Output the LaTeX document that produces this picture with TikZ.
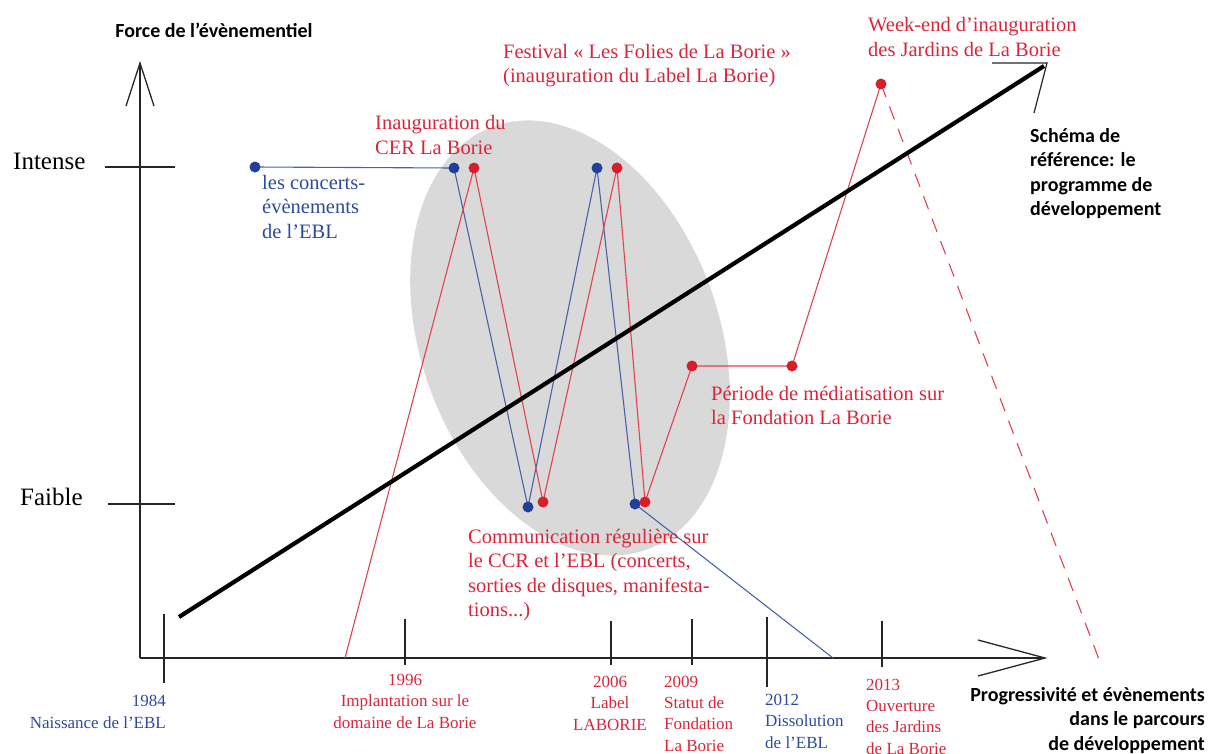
\documentclass[tikz,border=0pt]{standalone}
\usepackage{fontspec}
\setmainfont{Liberation Serif}
\newfontfamily\calfont{Carlito}
\definecolor{axisgray}{HTML}{262626}
\definecolor{ellgray}{HTML}{D9D9D9}
\definecolor{txtred}{HTML}{D9253A}
\definecolor{txtblue}{HTML}{2B4A9A}
\definecolor{dotred}{HTML}{D71E2B}
\definecolor{dotblue}{HTML}{213F98}
\definecolor{linered}{HTML}{E0434D}
\definecolor{lineblue}{HTML}{4862AA}
\begin{document}
\begin{tikzpicture}[x=1pt,y=-1pt,
  axisline/.style={draw=axisgray,line width=2.6pt},
  tickline/.style={draw=axisgray,line width=2pt},
  arrowarm/.style={draw=axisgray,line width=1.3pt},
  bluelink/.style={draw=lineblue,line width=1.1pt},
  redlink/.style={draw=linered,line width=1.1pt},
  bdot/.style={circle,fill=dotblue,inner sep=0pt,minimum size=11pt},
  rdot/.style={circle,fill=dotred,inner sep=0pt,minimum size=11pt},
  redlbl/.style={text=txtred,font=\fontsize{20.5}{24.5}\selectfont,inner sep=0pt,align=left,anchor=base west},
  bluelbl/.style={text=txtblue,font=\fontsize{20.5}{24.5}\selectfont,inner sep=0pt,align=left,anchor=base west},
  datelbl/.style={font=\fontsize{17}{21.2}\selectfont,inner sep=0pt},
  sanslbl/.style={font=\calfont\bfseries\fontsize{20}{24.5}\selectfont,inner sep=0pt,text=black},
  levellbl/.style={font=\fontsize{25}{30}\selectfont,inner sep=0pt,anchor=base west,text=black}
]
\useasboundingbox (0,0) rectangle (1209,753);

% grey zone
\fill[ellgray, rotate around={20:(570,338)}] (570,338) ellipse [x radius=149, y radius=225];

% coordinates
\coordinate (yo) at (140,658);
\coordinate (ytip) at (140,63);
\coordinate (yal) at (126,106);
\coordinate (yar) at (154,106);
\coordinate (xtip) at (1045,658);
\coordinate (xau) at (978,640);
\coordinate (xad) at (978,676);

\coordinate (b0) at (255,167);
\coordinate (b1) at (454,168);
\coordinate (b2) at (528,507);
\coordinate (b3) at (597,168);
\coordinate (b4) at (635,504);
\coordinate (bend) at (833,658);

\coordinate (rstart) at (345,658);
\coordinate (r1) at (474,168);
\coordinate (r2) at (543,502);
\coordinate (r3) at (617,168);
\coordinate (r4) at (645,502);
\coordinate (r5) at (692,366);
\coordinate (r6) at (792,366);
\coordinate (r7) at (881,84);
\coordinate (rend) at (1100,662);

\coordinate (ls) at (179,617);
\coordinate (le) at (1044,66);
\coordinate (ca) at (992,63);
\coordinate (cb) at (1047,63);
\coordinate (cc) at (1034,113);

% axes
\draw[axisline] (yo) -- (ytip);
\draw[arrowarm] (yal) -- (ytip) -- (yar);
\draw[axisline] (yo) -- (xtip);
\draw[arrowarm] (xau) -- (xtip) -- (xad);

% level ticks
\draw[tickline] (105,167) -- (175,167);
\draw[tickline] (108,504) -- (175,504);

% time ticks
\draw[tickline] (164,614) -- (164,683);
\draw[tickline] (405,619) -- (405,665);
\draw[tickline] (611,621) -- (611,665);
\draw[tickline] (692,619) -- (692,665);
\draw[tickline] (767,617) -- (767,687);
\draw[tickline] (882,621) -- (882,667);

% paths
\draw[bluelink] (b0) -- (b1) -- (b2) -- (b3) -- (b4) -- (bend);
\draw[redlink] (rstart) -- (r1) -- (r2) -- (r3) -- (r4) -- (r5) -- (r6) -- (r7);
\draw[redlink, dash pattern=on 14pt off 10pt] (r7) -- (rend);

% reference line
\draw[line width=4.2pt, black] (ls) -- (le);
\draw[line width=1.2pt, axisgray] (ca) -- (cb) -- (cc);

% dots
\foreach \p in {b0,b1,b2,b3,b4} \node[bdot] (d\p) at (\p) {};
\foreach \p in {r1,r2,r3,r4,r5,r6,r7} \node[rdot] (d\p) at (\p) {};

% axis labels (base anchor = baseline of the last line)
\node[sanslbl, anchor=base] (ttl) at (214,37) {Force de l’évènementiel};
\node[levellbl] (intense) at (13,169) {Intense};
\node[levellbl] (faible) at (20,505) {Faible};
\node[sanslbl, anchor=base west, align=left] (schema) at (1030,215.5) {Schéma de\\référence: le\\programme de\\développement};
\node[sanslbl, anchor=base east, align=right] (prog) at (1205,750) {Progressivité et évènements\\dans le parcours\\de développement};

% event labels
\node[bluelbl] (concerts) at (262,238) {les concerts-\\évènements\\de l’EBL};
\node[redlbl] (cer) at (375,154) {Inauguration du\\CER La Borie};
\node[redlbl] (festival) at (503,82.5) {Festival « Les Folies de La Borie »\\(inauguration du Label La Borie)};
\node[redlbl] (weekend) at (868,56) {Week-end d’inauguration\\des Jardins de La Borie};
\node[redlbl] (media) at (711,424.5) {Période de médiatisation sur\\la Fondation La Borie};
\node[redlbl] (comm) at (468,616.5) {Communication régulière sur\\le CCR et l’EBL (concerts,\\sorties de disques, manifesta-\\tions...)};

% date labels
\node[datelbl, text=txtblue, anchor=base east, align=right] (y1984) at (166,728) {1984\\Naissance de l’EBL};
\node[datelbl, text=txtred, anchor=base, align=center] (y1996) at (405,728) {1996\\Implantation sur le\\domaine de La Borie};
\node[datelbl, text=txtred, anchor=base, align=center] (y2006) at (610,730) {2006\\Label\\LABORIE};
\node[datelbl, text=txtred, anchor=base west, align=left] (y2009) at (664,751) {2009\\Statut de\\Fondation\\La Borie};
\node[datelbl, text=txtblue, anchor=base west, align=left] (y2012) at (765,748) {2012\\Dissolution\\de l’EBL};
\node[datelbl, text=txtred, anchor=base west, align=left] (y2013) at (866,754) {2013\\Ouverture\\des Jardins\\de La Borie};
\end{tikzpicture}
\end{document}
